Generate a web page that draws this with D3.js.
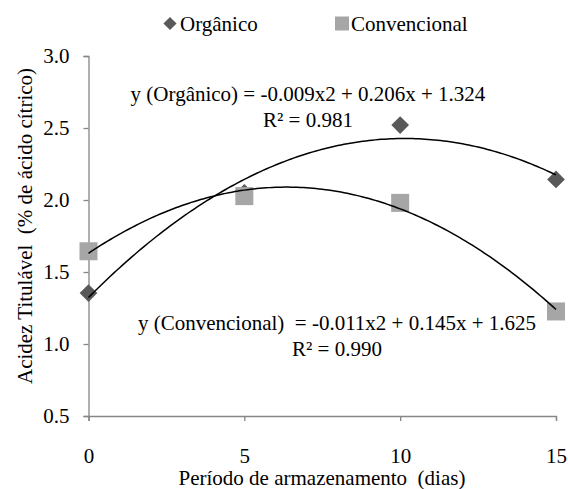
<!DOCTYPE html>
<html>
<head>
<meta charset="utf-8">
<script src="https://cdn.jsdelivr.net/npm/d3@7"></script>
</head>
<body style="margin:0">
<script>
// Data
const days = [0, 5, 10, 15];
const organico = [1.354, 2.05, 2.52, 2.143];
const convencional = [1.644, 2.027, 1.98, 1.226];
const yTicks = [0.5, 1.0, 1.5, 2.0, 2.5, 3.0];
const xTicks = [0, 5, 10, 15];
const seriesNames = ["Orgânico", "Convencional"];
const eqOrganico = ["y (Orgânico) = -0.009x2 + 0.206x + 1.324", "R² = 0.981"];
const eqConvencional = ["y (Convencional)\u00a0 = -0.011x2 + 0.145x + 1.625", "R² = 0.990"];
const yTitle = "Acidez Titulável\u00a0 (% de ácido cítrico)";
const xTitle = "Período de armazenamento\u00a0 (dias)";

const width = 568;
const height = 489;
const margin = {top: 56, right: 12, bottom: 73, left: 88.5};
const fontSize = 21;
const axisColor = "#868686";

const svg = d3.select("body")
  .append("svg")
    .attr("width", width)
    .attr("height", height);

const x = d3.scaleLinear().domain([0, 15]).range([margin.left, width - margin.right]);
const y = d3.scaleLinear().domain([0.5, 3.0]).range([height - margin.bottom, margin.top]);

// helper for plain text
const addText = (sel, str) => sel.append("text")
  .style("font-family", d => "'Liberation Serif'")
  .style("font-size", fontSize + "px")
  .attr("fill", "#000")
  .text(str);

// y axis
const yAxis = svg.append("g")
  .attr("transform", `translate(${margin.left},0)`)
  .call(d3.axisLeft(y).tickValues(yTicks).tickFormat(d3.format(".1f")).tickSize(5).tickPadding(14));
// x axis
const xAxis = svg.append("g")
  .attr("transform", `translate(0,${y(0.5)})`)
  .call(d3.axisBottom(x).tickValues(xTicks).tickSize(5).tickPadding(27));

[yAxis, xAxis].forEach(ax => {
  ax.attr("font-family", "Liberation Serif").attr("font-size", fontSize);
  ax.select(".domain").attr("stroke", axisColor).attr("stroke-width", 1.3);
  ax.selectAll(".tick line").attr("stroke", axisColor).attr("stroke-width", 1.3);
  ax.selectAll(".tick text").attr("fill", "#000");
});

// axis titles
addText(svg, yTitle)
  .attr("transform", "translate(32, 226) rotate(-90)")
  .attr("text-anchor", "middle");

addText(svg, xTitle)
  .attr("x", 322)
  .attr("y", 485)
  .attr("text-anchor", "middle");

// quadratic least-squares trendline from data
const fitQuad = (xs, ys) => {
  let s = [0, 0, 0, 0, 0], t = [0, 0, 0];
  xs.forEach((xv, i) => {
    for (let k = 0; k <= 4; k++) s[k] += Math.pow(xv, k);
    for (let k = 0; k <= 2; k++) t[k] += Math.pow(xv, k) * ys[i];
  });
  const M = [[s[0], s[1], s[2], t[0]], [s[1], s[2], s[3], t[1]], [s[2], s[3], s[4], t[2]]];
  for (let i = 0; i < 3; i++) {
    for (let j = i + 1; j < 3; j++) {
      const f = M[j][i] / M[i][i];
      for (let k = i; k < 4; k++) M[j][k] -= f * M[i][k];
    }
  }
  const c = [0, 0, 0];
  for (let i = 2; i >= 0; i--) {
    let v = M[i][3];
    for (let k = i + 1; k < 3; k++) v -= M[i][k] * c[k];
    c[i] = v / M[i][i];
  }
  return xv => c[0] + c[1] * xv + c[2] * xv * xv;
};

const line = d3.line().x(d => x(d[0])).y(d => y(d[1]));
const samples = d3.range(0, 15.001, 0.1);

// markers
const diamond = d3.symbol().type(d3.symbolDiamond2).size(200);
svg.append("g")
  .selectAll("path")
  .data(days.map((d, i) => [d, organico[i]]))
  .join("path")
    .attr("d", diamond)
    .attr("transform", d => `translate(${x(d[0])},${y(d[1])})`)
    .attr("fill", "#595959");

const sq = 18;
svg.append("g")
  .selectAll("rect")
  .data(days.map((d, i) => [d, convencional[i]]))
  .join("rect")
    .attr("x", d => x(d[0]) - sq / 2)
    .attr("y", d => y(d[1]) - sq / 2)
    .attr("width", sq)
    .attr("height", sq)
    .attr("fill", "#a6a6a6");

// trendlines
[organico, convencional].forEach(vals => {
  const f = fitQuad(days, vals);
  svg.append("path")
    .datum(samples.map(s => [s, f(s)]))
    .attr("d", line)
    .attr("fill", "none")
    .attr("stroke", "#000")
    .attr("stroke-width", 1.5);
});

// equation labels
const eqLabel = (lines, cx, y0) => {
  lines.forEach((t, i) => {
    addText(svg, t)
      .attr("x", cx)
      .attr("y", y0 + i * 26)
      .attr("text-anchor", "middle");
  });
};
eqLabel(eqOrganico, 308, 101);
eqLabel(eqConvencional, 337, 330);

// legend
const legend = svg.append("g");
legend.append("path")
  .attr("d", d3.symbol().type(d3.symbolDiamond2).size(110))
  .attr("transform", "translate(170,23.5)")
  .attr("fill", "#595959");
addText(legend, seriesNames[0]).attr("x", 180).attr("y", 30.5);
legend.append("rect")
  .attr("x", 335).attr("y", 16.5).attr("width", 14).attr("height", 14)
  .attr("fill", "#a6a6a6");
addText(legend, seriesNames[1]).attr("x", 351).attr("y", 30.5);
</script>
</body>
</html>
